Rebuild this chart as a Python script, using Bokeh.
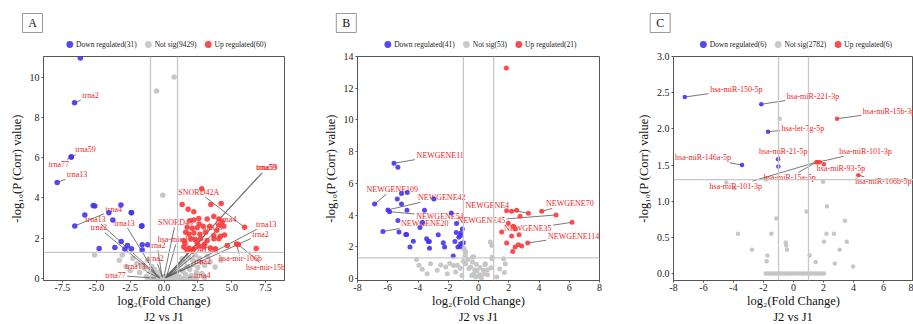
from bokeh.plotting import figure
from bokeh.layouts import row, column
from bokeh.models import Range1d, FixedTicker, Span, PrintfTickFormatter
from bokeh.embed import file_html
from bokeh.resources import INLINE
from bokeh.core.properties import value

SERIF = "Liberation Serif"
BLUE = "#4433f2"
RED = "#fa3a3a"
GRAY = "#c4c4c4"
LABEL_RED = "#f01c1c"

# ---------------- Panel A ----------------
a_down_x = [-6.18, -6.61, -6.85, -6.85, -7.89, -5.23, -5.11, -3.18, -5.85, -4.07, -2.40, -3.78,
            -6.59, -1.66, -3.16, -4.79, -3.63, -2.70, -2.40, -2.89, -1.61, -1.20, -1.61, -2.42, -1.63]
a_down_y = [10.95, 8.72, 6.03, 6.03, 4.77, 3.62, 3.60, 3.65, 3.15, 3.26, 3.26, 2.90,
            2.61, 2.59, 1.84, 1.49, 1.54, 1.64, 1.48, 1.46, 1.67, 1.67, 1.41, 3.28, 2.62]
a_up_x = [2.79, 1.34, 1.78, 2.20, 3.46, 4.22, 5.95, 6.81, 5.35, 5.50,
          1.91, 2.20, 2.57, 3.19, 3.68, 4.05, 4.30,
          1.71, 2.08, 2.45, 2.89, 3.38, 4.05, 4.42,
          1.83, 2.20, 2.65, 3.07, 3.68, 4.17, 4.47,
          1.46, 1.96, 2.33, 2.70, 3.19, 3.68, 4.05,
          1.46, 1.83, 2.20, 2.57, 2.94, 3.43, 3.80, 4.67,
          1.71, 2.08, 1.55, 2.45, 3.00, 2.60, 1.60, 3.90]
a_up_y = [4.46, 3.67, 3.44, 3.31, 3.67, 3.72, 2.54, 1.49, 1.71, 1.69,
          2.87, 2.90, 2.98, 2.95, 3.08, 2.95, 2.82,
          2.54, 2.49, 2.52, 2.59, 2.59, 2.65, 2.59,
          2.21, 2.26, 2.20, 2.30, 2.13, 2.10, 2.16,
          1.89, 1.97, 1.94, 1.97, 1.89, 1.97, 1.97,
          1.56, 1.51, 1.48, 1.61, 1.56, 1.51, 1.48, 1.64,
          1.36, 1.36, 1.75, 1.75, 1.70, 2.70, 2.30, 2.40]
a_ns_x = [-5.13, -3.08, -0.09, -0.55, 0.75,
          -1.6, -1.4, -1.2, -1.0, -0.9, -0.8, -0.7, -0.6, -0.5, -0.4, -0.3, -0.2, -0.1, 0.0,
          0.1, 0.2, 0.3, 0.4, 0.5, 0.6, 0.7, 0.8, 0.9, 1.0, 1.1, 1.2, 1.33, 1.4, 1.5, 1.6,
          1.7, 1.8, 1.9, 2.0, 2.1, 2.2, 2.3, 2.4, 2.5, 2.6, 2.7, 2.8, 3.0, 3.2, 3.4, 3.77,
          3.0, 2.0, -2.0, -2.3, -1.8, -2.5, -1.3, -3.3, -2.8, 4.2,
          -1.2, -0.9, -0.6, -0.3, 0.3, 0.6, 0.9, 1.2, 1.5, 1.8, 2.1, 2.4]
a_ns_y = [1.17, 1.17, 4.13, 9.31, 10.0,
          0.65, 0.5, 0.9, 0.35, 0.6, 0.2, 0.45, 0.1, 0.3, 0.05, 0.15, 0.02, 0.08, 0.0,
          0.05, 0.12, 0.03, 0.2, 0.08, 0.3, 0.15, 0.4, 0.25, 0.55, 0.1, 0.7, 0.98, 0.35, 0.85, 0.2,
          0.6, 1.05, 0.45, 0.15, 0.9, 0.7, 1.15, 0.3, 0.55, 1.0, 0.8, 0.25, 0.65, 1.1, 0.82, 0.57,
          0.05, 0.02, 0.75, 1.0, 0.3, 0.4, 0.1, 0.9, 0.6, 0.9,
          0.02, 0.02, 0.02, 0.02, 0.02, 0.02, 0.02, 0.02, 0.02, 0.02, 0.02, 0.02]
a_lab_text = ["trna2", "trna59", "trna77", "trna13", "trna4", "trna13", "trna2", "trna13",
              "trna2", "trna2", "trna13", "trna77",
              "SNORD42A", "trna59", "trna59", "trna4", "trna13", "trna2", "SNORD43", "trna13",
              "hsa-mir-15b", "SNORD43", "hsa-mir-106b", "hsa-mir-15b", "trna2", "trna4"]
a_lab_x = [-5.43, -5.80, -7.77, -6.42, -3.71, -5.06, -4.82, -2.92,
           -0.50, -0.63, -2.10, -3.58,
           2.57, 7.55, 7.62, 4.74, 7.55, 7.13, 0.85, 3.56,
           0.97, 2.70, 5.65, 7.50, 2.87, 2.82]
a_lab_y = [9.07, 6.39, 5.66, 5.15, 3.41, 2.95, 2.52, 2.75,
           1.64, 0.98, 0.58, 0.15,
           4.29, 5.49, 5.49, 2.92, 2.69, 2.20, 2.79, 2.54,
           1.93, 1.39, 0.98, 0.54, 0.85, 0.16]
a_lab_tx = [-6.61, -6.85, -6.85, -7.89, -6.59, -0.30, -0.35, -0.50,
            -0.15, -0.10, -0.30, -0.60,
            5.95, 0.10, 0.12, 0.15, 0.10, 0.10, 0.00, 0.20,
            0.20, 0.30, 5.35, 5.50, 0.20, 1.80]
a_lab_ty = [8.72, 6.03, 6.03, 4.77, 2.61, 0.05, 0.05, 0.10,
            0.10, 0.05, 0.02, 0.02,
            2.54, 0.05, 0.05, 0.05, 0.05, 0.05, 0.10, 0.05,
            0.10, 0.10, 1.71, 1.69, 0.05, 0.05]

# ---------------- Panel B ----------------
b_down_x = [-5.59, -5.33, -6.87, -5.37, -5.09, -4.71, -5.09, -5.99, -5.88, -4.73, -2.95, -3.57,
            -1.80, -5.33, -3.70, -3.87, -6.32, -5.26, -4.81, -4.75, -2.66, -1.45, -1.47, -1.18,
            -1.07, -4.31, -3.43, -3.32, -3.25, -2.33, -1.56, -1.18, -1.18, -1.01, -4.53, -3.24,
            -2.24, -1.36, -1.22, -1.67, -1.30]
b_down_y = [7.27, 7.02, 4.70, 5.02, 5.37, 5.43, 4.70, 4.33, 4.22, 4.31, 5.02, 4.31,
            4.14, 3.66, 3.53, 3.22, 2.97, 2.93, 2.78, 2.78, 2.76, 3.47, 2.90, 2.86,
            3.13, 2.36, 2.51, 2.34, 2.34, 2.26, 2.34, 2.72, 2.19, 2.26, 1.99, 1.92,
            1.99, 1.99, 2.03, 1.42, 2.60]
b_up_x = [1.84, 1.86, 2.19, 2.52, 3.30, 4.18, 2.75, 5.13, 1.97, 6.19, 2.30, 2.42,
          1.53, 2.19, 2.68, 1.86, 3.25, 2.63, 2.85, 2.42, 2.26]
b_up_y = [13.27, 4.28, 4.24, 4.31, 4.12, 4.24, 3.93, 4.01, 3.49, 3.55, 3.30, 3.13,
          2.93, 2.68, 2.76, 2.24, 2.24, 2.13, 2.05, 1.99, 1.71]
b_ns_x = [-4.10, -3.94, -3.17, -3.72, -2.73, -2.17, -1.40, -0.85, -0.63, -2.06, -1.51, -0.30,
          -0.52, -1.65, -0.99, -0.87, -0.32, 0.45, 0.89, 1.66, 1.77, 0.78, 0.89, 0.91,
          0.43, 0.83, 0.32, 0.60, 0.10, 1.71, -0.10, 0.00, -0.20, 0.20, -0.45, 0.40,
          -0.70, -1.20, -2.50, -1.90, 0.10, -0.15, 0.60, -1.00, -0.40, 1.20, -0.40, -0.84,
          -0.95, -3.40, 1.40, -1.10, -0.25]
b_ns_y = [1.21, 0.84, 0.94, 0.59, 0.52, 0.73, 0.84, 0.94, 0.63, 0.31, 0.42, 0.31,
          0.73, 0.83, 1.88, 1.46, 1.36, 0.94, 1.25, 1.25, 0.94, 2.30, 2.09, 1.36,
          0.88, 0.69, 0.52, 0.25, 0.25, 0.38, 0.50, 0.15, 0.10, 0.05, 0.20, 0.30,
          1.20, 0.65, 0.85, 0.95, 0.70, 0.90, 0.55, 1.10, 1.05, 0.10, 1.36, 1.67,
          1.88, 0.30, 0.60, 0.20, 0.55]
b_lab_text = ["NEWGENE11", "NEWGENE109", "NEWGENE42", "NEWGENE54", "NEWGENE20",
              "NEWGENE4", "NEWGENE70", "NEWGENE45", "NEWGENE35", "NEWGENE114"]
b_lab_x = [-2.53, -5.70, -2.43, -2.55, -3.55, 0.58, 6.04, 0.19, 3.26, 6.29]
b_lab_y = [7.77, 5.64, 5.12, 3.93, 3.45, 4.60, 4.74, 3.64, 3.13, 2.68]
b_lab_tx = [-5.59, -6.87, -5.99, -5.88, -6.32, 3.30, 4.18, 5.13, 6.19, 3.25]
b_lab_ty = [7.27, 4.70, 4.33, 4.22, 2.97, 4.12, 4.24, 4.01, 3.55, 2.24]

# ---------------- Panel C ----------------
c_down_x = [-7.25, -2.15, -1.70, -3.43, -1.03, -1.01]
c_down_y = [2.44, 2.34, 1.96, 1.50, 1.58, 1.48]
c_up_x = [2.90, 1.52, 1.63, 1.75, 2.03, 4.32]
c_up_y = [2.14, 1.54, 1.54, 1.54, 1.51, 1.36]
c_ns_x = [-0.92, -4.48, -3.95, 1.97, -1.83, 0.86, 2.23, -1.15, 3.43, -3.70, -1.48, 2.19,
          2.70, -0.52, -0.48, -0.43, 2.03, 3.55, -2.77, 3.08, -1.74, -1.79, 1.08, 1.48,
          2.75, 3.97,
          -1.85, -1.70, -1.55, -1.40, -1.25, -1.10, -0.95, -0.80, -0.65, -0.50, -0.35, -0.20,
          -0.05, 0.10, 0.25, 0.40, 0.55, 0.70, 0.85, 1.00, 1.15, 1.30, 1.45, 1.60, 1.75, 1.90, 2.03]
c_ns_y = [2.14, 1.26, 1.18, 1.27, 1.30, 0.86, 0.93, 0.76, 0.73, 0.55, 0.55, 0.55,
          0.55, 0.43, 0.39, 0.33, 0.44, 0.44, 0.33, 0.33, 0.25, 0.17, 0.25, 0.16,
          0.14, 0.10,
          0.0, 0.0, 0.0, 0.0, 0.0, 0.0, 0.0, 0.0, 0.0, 0.0, 0.0, 0.0,
          0.0, 0.0, 0.0, 0.0, 0.0, 0.0, 0.0, 0.0, 0.0, 0.0, 0.0, 0.0, 0.0, 0.0, 0.0]
c_lab_text = ["hsa-miR-150-5p", "hsa-miR-221-3p", "hsa-miR-15b-3p", "hsa-let-7g-5p",
              "hsa-miR-21-5p", "hsa-miR-146a-5p", "hsa-miR-101-3p", "hsa-miR-93-5p",
              "hsa-miR-106b-5p", "hsa-miR-15a-5p", "hsa-miR-101-3p"]
c_lab_x = [-3.81, 1.30, 6.37, 0.62, -0.68, -6.03, 4.80, 3.17, 5.99, -0.25, -3.85]
c_lab_y = [2.54, 2.45, 2.24, 2.01, 1.69, 1.60, 1.69, 1.45, 1.27, 1.33, 1.21]
c_lab_tx = [-7.25, -2.15, 2.90, -1.70, -1.03, -3.43, 1.63, 2.03, 4.32, 1.52, 1.52]
c_lab_ty = [2.44, 2.34, 2.14, 1.96, 1.58, 1.50, 1.54, 1.51, 1.36, 1.54, 1.54]

legend_names = ["Down regulated", "Not sig", "Up regulated"]
panel_letters = ["A", "B", "C"]
comparison = "J2 vs J1"

# Times-like advance widths (em) for text-width estimates
_TW = {"D": .722, "N": .722, "U": .722, "S": .556, "R": .667, "O": .722, "A": .722,
       "E": .611, "W": .944, "G": .722, "o": .5, "w": .722, "n": .5, " ": .25, "r": .333,
       "e": .444, "g": .5, "u": .5, "l": .278, "a": .444, "t": .278, "d": .5, "(": .333,
       ")": .333, "i": .278, "s": .389, "h": .5, "m": .778, "p": .5, "-": .333, "b": .5}


def text_w(s):
    return sum(_TW.get(ch, 0.5) for ch in s)


W_TOTAL, TOP_H, BOT_H = 913, 50, 14
MAIN_TOP, FH, MAIN_BOTTOM = 6, 226, 28


def strip(height):
    s = figure(width=W_TOTAL, height=height, x_range=Range1d(0, W_TOTAL), y_range=Range1d(0, height),
               output_backend="svg", toolbar_location=None, x_axis_type=None, y_axis_type=None,
               min_border=0, outline_line_color=None)
    s.grid.visible = False
    s.border_fill_color = "white"
    s.background_fill_color = "white"
    return s


def panel(down, ns, up, labels, xr, yr, xticks, yticks, xfmt, yfmt, width, left, right, psize):
    fw = width - left - right
    p = figure(width=width, height=MAIN_TOP + FH + MAIN_BOTTOM, x_range=Range1d(*xr), y_range=Range1d(*yr),
               output_backend="svg", toolbar_location=None,
               min_border_left=left, min_border_right=right,
               min_border_top=MAIN_TOP, min_border_bottom=MAIN_BOTTOM)
    p.grid.visible = False
    p.outline_line_color = "#555555"
    p.background_fill_color = "white"
    p.border_fill_color = "white"
    for ax in (p.xaxis[0], p.yaxis[0]):
        ax.axis_line_color = "#555555"
        ax.major_tick_line_color = "#555555"
        ax.major_tick_out = 2
        ax.major_tick_in = 0
        ax.minor_tick_line_color = None
        ax.major_label_text_font = SERIF
        ax.major_label_text_font_size = "10px"
        ax.major_label_text_color = "#222222"
        ax.major_label_standoff = 1
        ax.axis_label_text_font = SERIF
        ax.axis_label_text_font_size = "12.5px"
        ax.axis_label_text_font_style = "normal"
        ax.axis_label_text_color = "#111111"
        ax.axis_label_standoff = 0
    p.yaxis.major_label_standoff = 2
    p.yaxis.axis_label_standoff = 3
    p.xaxis.ticker = FixedTicker(ticks=xticks)
    p.yaxis.ticker = FixedTicker(ticks=yticks)
    p.xaxis.formatter = PrintfTickFormatter(format=xfmt)
    p.yaxis.formatter = PrintfTickFormatter(format=yfmt)
    p.xaxis.axis_label = "log\u2082(Fold Change)"
    p.yaxis.axis_label = "-log\u2081\u2080(P (Corr) value)"

    for loc in (-1.0, 1.0):
        p.add_layout(Span(location=loc, dimension="height", line_color="#c8c8c8", line_width=1.3))
    p.add_layout(Span(location=1.3, dimension="width", line_color="#c8c8c8", line_width=1.3))

    p.scatter(ns[0], ns[1], size=psize, fill_color=GRAY, line_color=None, fill_alpha=0.95)

    # leader lines from points to label boxes
    sx = fw / (xr[1] - xr[0])
    sy = FH / (yr[1] - yr[0])
    txt, lx, ly2, tx, ty = labels
    x0s, y0s, x1s, y1s = [], [], [], []
    for t, a, b, c, d in zip(txt, lx, ly2, tx, ty):
        hw = text_w(t) * 8 / 2 + 1.5
        hh = 5.0
        dxp = (a - c) * sx
        dyp = (b - d) * sy
        s = min(hw / abs(dxp) if dxp else 1e9, hh / abs(dyp) if dyp else 1e9)
        if s >= 1:
            continue
        x0s.append(c)
        y0s.append(d)
        x1s.append(a - s * (a - c))
        y1s.append(b - s * (b - d))
    p.segment(x0s, y0s, x1s, y1s, line_color="#555555", line_width=0.8)
    p.text(lx, ly2, text=txt, text_align="center", text_baseline="middle",
           text_font=value(SERIF), text_font_size=value("8px"), text_color=LABEL_RED)

    p.scatter(down[0], down[1], size=psize, fill_color=BLUE, line_color=None, fill_alpha=0.9)
    p.scatter(up[0], up[1], size=psize, fill_color=RED, line_color=None, fill_alpha=0.9)
    return p


pA = panel((a_down_x, a_down_y), (a_ns_x, a_ns_y), (a_up_x, a_up_y),
           (a_lab_text, a_lab_x, a_lab_y, a_lab_tx, a_lab_ty),
           (-8.9, 8.9), (-0.1, 11.02), [-7.5, -5, -2.5, 0, 2.5, 5, 7.5], [0, 2, 4, 6, 8, 10],
           "%.1f", "%d", 300, 43, 16, 5.5)
pB = panel((b_down_x, b_down_y), (b_ns_x, b_ns_y), (b_up_x, b_up_y),
           (b_lab_text, b_lab_x, b_lab_y, b_lab_tx, b_lab_ty),
           (-8, 8), (-0.12, 14.0), [-8, -6, -4, -2, 0, 2, 4, 6, 8], [0, 2, 4, 6, 8, 10, 12, 14],
           "%d", "%d", 305, 57, 6, 5)
pC = panel((c_down_x, c_down_y), (c_ns_x, c_ns_y), (c_up_x, c_up_y),
           (c_lab_text, c_lab_x, c_lab_y, c_lab_tx, c_lab_ty),
           (-8, 8), (-0.095, 3.0), [-8, -6, -4, -2, 0, 2, 4, 6, 8], [0, 0.5, 1.0, 1.5, 2.0, 2.5, 3.0],
           "%d", "%.1f", 308, 68, 0, 4.5)

# ---- top strip: panel letters + legends ----
counts = [(31, 9429, 60), (41, 53, 21), (6, 2782, 6)]
letter_cx = [32, 345.8, 659.7]
legend_cx = [165.7, 480, 795.5]
top = strip(TOP_H)
cy = TOP_H - 22.5
top.rect(letter_cx, [cy] * 3, width=20, height=19, fill_color="white", line_color="#999999", line_width=1)
top.text(letter_cx, [cy] * 3, text=panel_letters, text_align="center", text_baseline="middle",
         text_font=value(SERIF), text_font_size=value("12px"), text_color="#111111")
ly = TOP_H - 44
cxs, txs, names, cols = [], [], [], []
for cnt, lcx in zip(counts, legend_cx):
    nm = ["%s(%d)" % (n, c) for n, c in zip(legend_names, cnt)]
    widths = [text_w(n) * 7.5 for n in nm]
    total = 3.4 + sum(6.3 + w for w in widths) + 2 * 11.7
    x = lcx - total / 2 + 3.4
    for n, w, col in zip(nm, widths, [BLUE, GRAY, RED]):
        cxs.append(x)
        txs.append(x + 6.3)
        names.append(n)
        cols.append(col)
        x = x + 6.3 + w + 11.7
top.scatter(cxs, [ly] * len(cxs), size=6.8, fill_color=cols, line_color=None, fill_alpha=0.9)
top.text(txs, [ly] * len(txs), text=names, text_align="left", text_baseline="middle",
         text_font=value(SERIF), text_font_size=value("7.5px"), text_color="#222222")

# ---- bottom strip: comparison names ----
bot = strip(BOT_H)
frame_cx = [163.5, 478, 792.5]
bot.text(frame_cx, [BOT_H - 6.7] * 3, text=[comparison] * 3, text_align="center",
         text_baseline="middle", text_font=value(SERIF), text_font_size=value("12.5px"),
         text_color="#111111")

layout = column(top, row(pA, pB, pC, spacing=0), bot, spacing=0)
open("out.html", "w").write(file_html(layout, INLINE))
